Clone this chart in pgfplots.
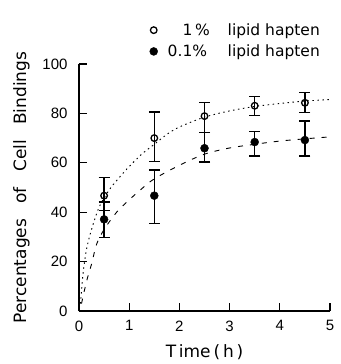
\documentclass[border=0pt]{standalone}
\usepackage{pgfplots}
\pgfplotsset{compat=1.18}
\usepackage{fontspec}
\setmainfont{DejaVu Sans}
\newfontfamily\tickfont{Liberation Sans}
\begin{document}
\begin{tikzpicture}
\begin{axis}[
  name=ax,
  scale only axis,
  width=251pt, height=247pt,
  xmin=0, xmax=5, ymin=0, ymax=100,
  axis lines=left,
  axis line style={-, line width=1.2pt},
  tick align=inside,
  major tick length=8pt,
  tick style={line width=1.2pt, black},
  xtick={0,1,2,3,4,5},
  ytick={0,20,40,60,80,100},
  /pgf/number format/assume math mode=true,
  tick label style={font=\tickfont\fontsize{15}{17}\selectfont},
  yticklabel style={xshift=-8pt},
  xticklabel style={yshift=-6pt},
  xlabel={T\,ime\,(\,h\,)},
  ylabel={Percentages\hspace{0.9em}of\hspace{0.9em}Cell\hspace{0.9em}Bindings},
  label style={font=\fontsize{17}{19}\selectfont},
  xlabel style={yshift=-7pt},
  ylabel style={yshift=6pt},
  clip=false,
  legend style={at={(0.269,1.007)}, anchor=south west, draw=none, fill=none,
    font=\fontsize{15.5}{18}\selectfont, row sep=4pt},
  legend cell align=left,
]
% fitted curves
\addplot[black, dash pattern=on 1.5pt off 3.5pt, line width=0.9pt, smooth, forget plot] coordinates {
 (0.03,3) (0.08,15) (0.15,25) (0.25,33) (0.4,42) (0.6,49) (0.8,54) (1.0,58.5)
 (1.25,63.5) (1.5,67.5) (1.75,71.5) (2.0,74.5) (2.5,78.5) (3.0,81) (3.5,82.8)
 (4.0,84) (4.5,85) (5.0,85.6)};
\addplot[black, dash pattern=on 5pt off 7pt, line width=0.9pt, smooth, forget plot] coordinates {
 (0.05,3) (0.15,12) (0.25,19) (0.35,27) (0.5,33) (0.75,40) (1.0,45) (1.25,49.5)
 (1.5,53.5) (2.0,59) (2.5,63.5) (3.0,66) (3.5,67.5) (4.0,68.8) (4.5,69.7) (5.0,70.5)};
% data
\addplot[only marks, mark=o, mark size=3.3pt, mark options={line width=1.3pt, fill=white},
  error bars/.cd, y dir=both, y explicit,
  error bar style={line width=1.3pt},
  error mark options={rotate=90, mark size=5.5pt, line width=1.4pt}]
 coordinates {
 (0.5,46.7) += (0,7.4) -= (0,6)
 (1.5,70) += (0,10.5) -= (0,9.5)
 (2.5,78.9) += (0,5.4) -= (0,6.7)
 (3.5,83.1) += (0,3.7) -= (0,3.9)
 (4.5,84.3) += (0,4.1) -= (0,3.9)
 };
\addlegendentry{\hspace{8pt}\makebox[60pt][l]{\hspace{15pt}1\,\%}lipid hapten}
\addplot[only marks, mark=*, mark size=4pt, mark options={fill=black},
  error bars/.cd, y dir=both, y explicit,
  error bar style={line width=1.3pt},
  error mark options={rotate=90, mark size=5.5pt, line width=1.4pt}]
 coordinates {
 (0.5,37.1) += (0,7) -= (0,7.3)
 (1.5,46.7) += (0,10.4) -= (0,11.2)
 (2.5,65.9) += (0,6.3) -= (0,5.6)
 (3.5,68.4) += (0,4.2) -= (0,5.6)
 (4.5,69.2) += (0,7.8) -= (0,6.4)
 };
\addlegendentry{\hspace{8pt}\makebox[60pt][l]{0.1\%}lipid hapten}
\end{axis}
\pgfresetboundingbox
\path (ax.south west) ++(-79pt,-53pt) rectangle ++(340pt,364pt);
\end{tikzpicture}
\end{document}
